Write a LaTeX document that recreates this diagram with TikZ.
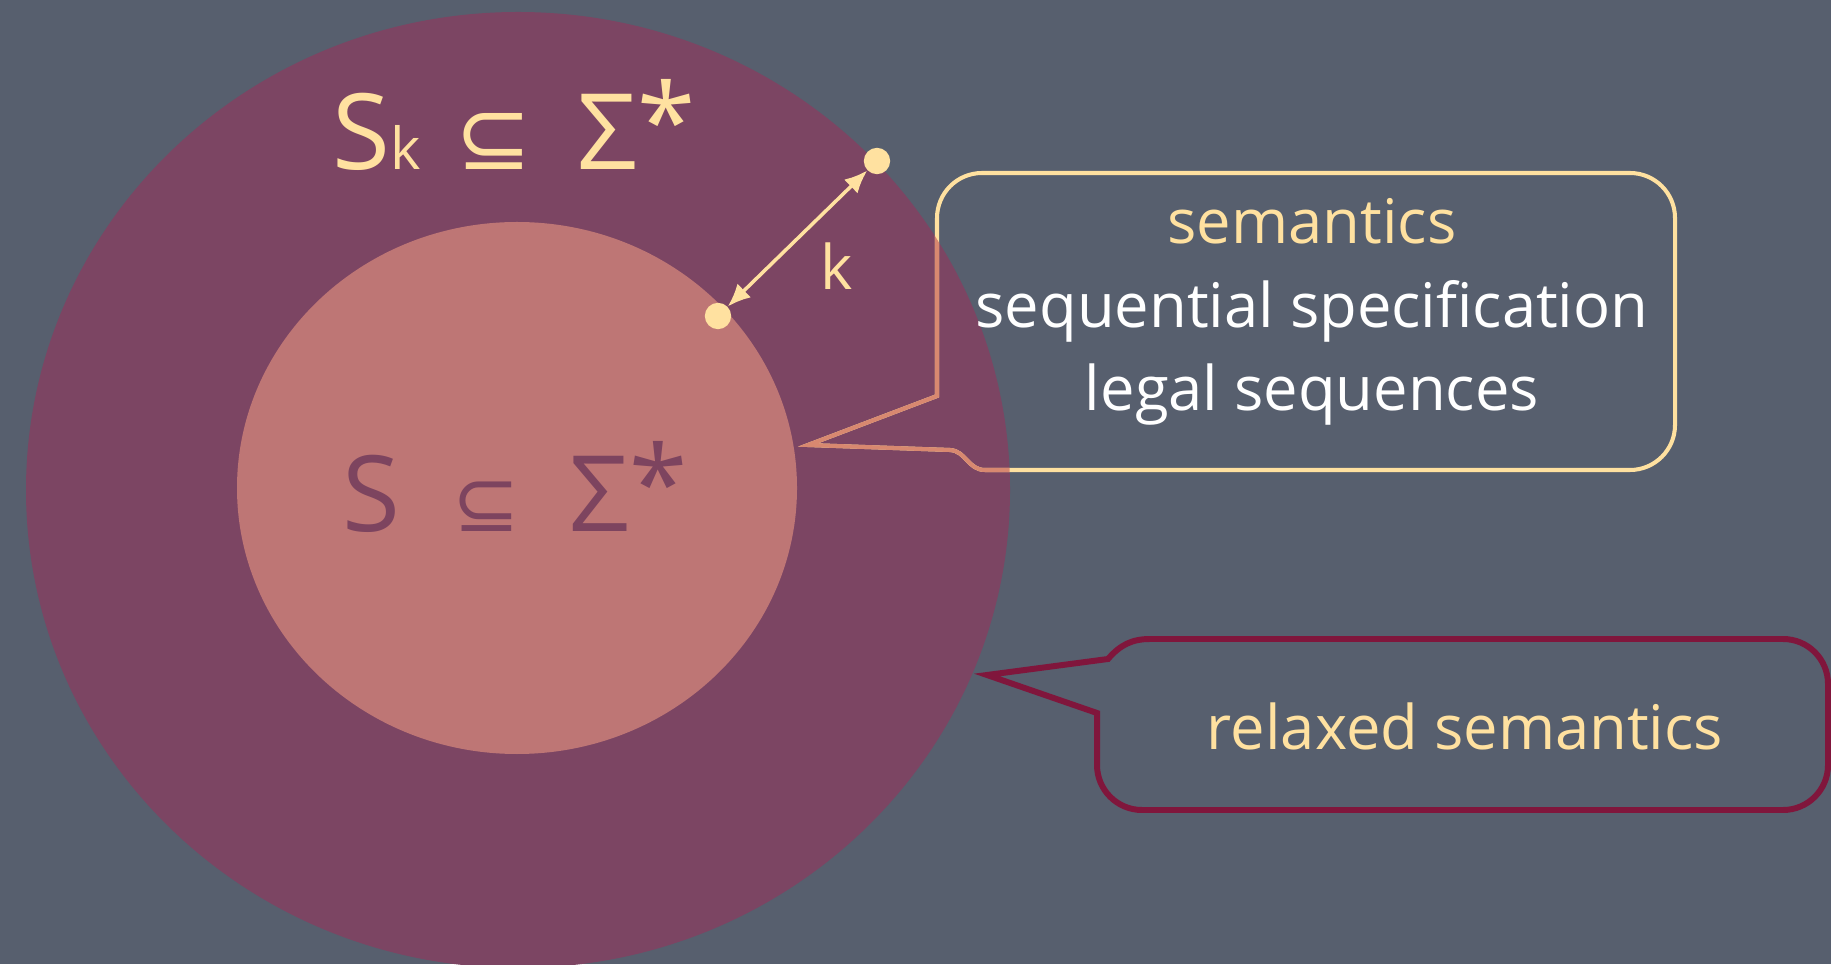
\documentclass[tikz,border=0pt]{standalone}
\usepackage{fontspec}
\setmainfont{Open Sans}
\newfontfamily\symfont{DejaVu Sans}
\usetikzlibrary{arrows.meta,positioning}

\definecolor{board}{RGB}{87,95,110}
\definecolor{plum}{RGB}{124,69,99}
\definecolor{salmon}{RGB}{190,118,117}
\definecolor{cream}{RGB}{255,225,160}
\definecolor{darkplum}{RGB}{125,68,95}
\definecolor{wine}{RGB}{128,22,60}
\definecolor{tailpink}{RGB}{216,136,112}

\tikzstyle{setlabel} = [inner sep=0pt, font=\fontsize{60}{62}\selectfont]
\tikzstyle{dot} = [circle, minimum width=15pt, fill=cream, inner sep=0pt]
\tikzstyle{bubbletext} = [align=center, font=\fontsize{35}{47.6}\selectfont]
\tikzstyle{karrow} = [cream, line width=2pt, {Latex[length=13pt,width=11pt]}-{Latex[length=13pt,width=11pt]}]
\tikzstyle{specline} = [line width=2.3pt]
\tikzstyle{relaxline} = [wine, line width=3.4pt]

%outlines of the two bubbles (pixel units)
\newcommand{\specbubble}{(985,494) -- (1630,494) arc[start angle=-90, end angle=0, radius=45]
    -- (1675,746) arc[start angle=0, end angle=90, radius=45]
    -- (982,791) arc[start angle=90, end angle=180, radius=45]
    -- (937,568) -- (808,519) -- (950,514) .. controls (966,513) and (968,494) .. (985,494) -- cycle}
\newcommand{\relaxbubble}{(1150,325) -- (1783,325) arc[start angle=90, end angle=0, radius=45]
    -- (1828,199) arc[start angle=0, end angle=-90, radius=45]
    -- (1142,154) arc[start angle=270, end angle=180, radius=45]
    -- (1097,251) -- (987,289) -- (1108,305) .. controls (1120,319) and (1132,325) .. (1150,325) -- cycle}

\begin{document}
\begin{tikzpicture}[x=0.02cm, y=0.02cm]
\useasboundingbox (0,0) rectangle (1831,964);
\fill[board] (0,0) rectangle (1831,964);
%begin sets
\fill[plum] (518,474) ellipse [x radius=492, y radius=478];
\fill[salmon] (517,476) ellipse [x radius=280, y radius=266];
\node[setlabel, text=cream] (skset) at (514,839)
    {S{\fontsize{33}{34}\selectfont k}\hspace{20pt}{\symfont\fontsize{52}{54}\selectfont ⊆}\hspace{26pt}Σ\raisebox{0.1em}{*}};
\node[setlabel, text=darkplum] (sset) at (515,477)
    {S\hspace{30pt}{\symfont\fontsize{46}{48}\selectfont ⊆}\hspace{28pt}Σ\raisebox{0.1em}{*}};
%end sets
%begin distance k
\node[dot] (inpt) at (718,648) {};
\node[dot] (outpt) at (877,803) {};
\draw[karrow] (inpt) -- (outpt)
    node[midway, bubbletext, text=cream, xshift=22pt, yshift=-16pt] (klabel) {k};
%end distance k
%begin semantics bubble
\draw[specline, cream] \specbubble;
\begin{scope}
    \clip (518,474) ellipse [x radius=492, y radius=478];
    \draw[specline, tailpink] \specbubble;
\end{scope}
\node[bubbletext, text=white] (spec) at (1312,652)
    {\textcolor{cream}{semantics}\\ sequential specification\\ legal sequences};
%end semantics bubble
%begin relaxed bubble
\draw[relaxline] \relaxbubble;
\node[bubbletext, text=cream] (relaxed) at (1465,238) {relaxed semantics};
%end relaxed bubble
\end{tikzpicture}
\end{document}
